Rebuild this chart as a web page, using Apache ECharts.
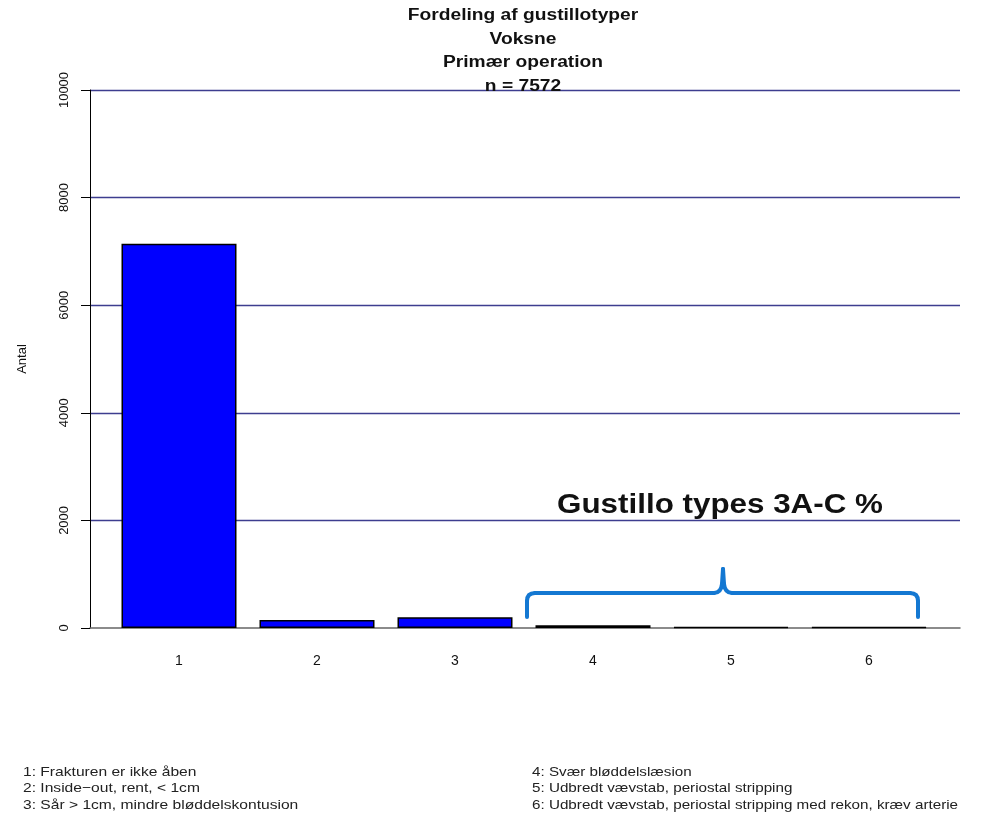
<!DOCTYPE html>
<html><head><meta charset="utf-8">
<script src="https://cdn.jsdelivr.net/npm/echarts@6/dist/echarts.min.js"></script>
<style>html,body{margin:0;padding:0;background:#fff}#c{width:996px;height:822px}</style>
</head><body><div id="c"></div>
<script>
const categories = ['1', '2', '3', '4', '5', '6'];
const counts = [7140, 150, 200, 50, 18, 14];
const yMin = 0, yMax = 10000, yStep = 2000;
const titleLines = ['Fordeling af gustillotyper', 'Voksne', 'Primær operation', 'n = 7572'];
const legendLeft = ['1: Frakturen er ikke åben', '2: Inside\u2212out, rent, < 1cm', '3: Sår > 1cm, mindre bløddelskontusion'];
const legendRight = ['4: Svær bløddelslæsion', '5: Udbredt vævstab, periostal stripping', '6: Udbredt vævstab, periostal stripping med rekon, kræv arterie'];
const yAxisTitle = 'Antal';
const annotationText = 'Gustillo types 3A-C %';

const FONT = '"Liberation Sans", Arial, sans-serif';
const chart = echarts.init(document.getElementById('c'), null, {renderer: 'canvas'});

const graphics = [];
const titleY = [16, 39.5, 63, 86.5];
titleLines.forEach((t, i) => graphics.push({
  type: 'text', x: 523, y: titleY[i], scaleX: 1.2, z: 100,
  style: {text: t, fontFamily: FONT, fontSize: 16, fontWeight: 'bold', fill: '#111', align: 'center', verticalAlign: 'middle'}
}));
const legY = [772, 788.5, 805];
legendLeft.forEach((t, i) => graphics.push({
  type: 'text', x: 23, y: legY[i], scaleX: 1.2,
  style: {text: t, fontFamily: FONT, fontSize: 13, fill: '#222', align: 'left', verticalAlign: 'middle'}
}));
legendRight.forEach((t, i) => graphics.push({
  type: 'text', x: 532, y: legY[i], scaleX: 1.17,
  style: {text: t, fontFamily: FONT, fontSize: 13, fill: '#222', align: 'left', verticalAlign: 'middle'}
}));
graphics.push({
  type: 'text', x: 720, y: 505, scaleX: 1.12, z: 100,
  style: {text: annotationText, fontFamily: FONT, fontSize: 28, fontWeight: 'bold', fill: '#111', align: 'center', verticalAlign: 'middle'}
});
// curly brace annotation
const braceStyle = {stroke: '#1478d2', lineWidth: 4, fill: null, lineCap: 'round', lineJoin: 'round'};
const braceLines = [[527,617,527,601],[535,593,714,593],[722,584,723,569],[723,569,724,584],[732,593,910,593],[918,601,918,617]];
const braceCurves = [[527,601,535,593,527,593],[714,593,722,584,721,593],[724,584,732,593,725,593],[910,593,918,601,918,593]];
braceLines.forEach(l => graphics.push({type: 'line', z: 100, shape: {x1: l[0], y1: l[1], x2: l[2], y2: l[3]}, style: braceStyle}));
braceCurves.forEach(c => graphics.push({type: 'bezierCurve', z: 100, shape: {x1: c[0], y1: c[1], x2: c[2], y2: c[3], cpx1: c[4], cpy1: c[5]}, style: braceStyle}));

chart.setOption({
  animation: false,
  backgroundColor: '#fff',
  grid: [
    {left: 90, top: 90, width: 870, height: 538},
    {left: 110, top: 90, width: 828, height: 538}
  ],
  xAxis: [
    {gridIndex: 0, type: 'value', min: 0, max: 1,
     axisLine: {show: true, onZero: false, lineStyle: {color: '#666', width: 1.5}},
     axisTick: {show: false}, axisLabel: {show: false}, splitLine: {show: false}},
    {gridIndex: 1, type: 'category', data: categories,
     axisLine: {show: false}, axisTick: {show: false},
     axisLabel: {margin: 26, fontSize: 14, color: '#111', fontFamily: FONT}}
  ],
  yAxis: [
    {gridIndex: 0, type: 'value', min: yMin, max: yMax, interval: yStep,
     axisLine: {show: true, onZero: false, lineStyle: {color: '#000', width: 1}},
     axisTick: {show: true, length: 9, lineStyle: {color: '#000'}},
     axisLabel: {rotate: 90, margin: 19, fontSize: 13, color: '#111', fontFamily: FONT, formatter: v => String(v)},
     splitLine: {show: true, showMinLine: false, lineStyle: {color: '#3d3d8f', width: 1.3}},
     name: yAxisTitle, nameLocation: 'middle', nameGap: 61, nameRotate: 90,
     nameTextStyle: {fontSize: 13, color: '#111', fontFamily: FONT}},
    {gridIndex: 1, type: 'value', min: yMin, max: yMax, show: false}
  ],
  series: [{
    type: 'bar', xAxisIndex: 1, yAxisIndex: 1, data: counts, barWidth: 115,
    itemStyle: {color: '#0000ff', borderColor: '#000', borderWidth: 1.5}
  }],
  graphic: graphics
});
</script>
</body></html>
